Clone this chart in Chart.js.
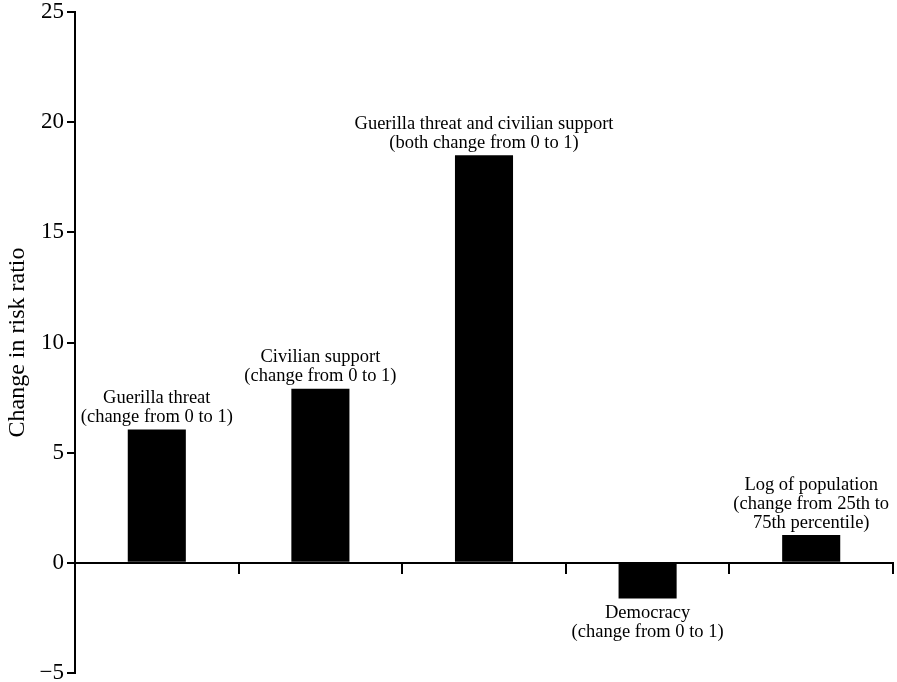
<!DOCTYPE html>
<html>
<head>
<meta charset="utf-8">
<script src="https://cdn.jsdelivr.net/npm/chart.js@4/dist/chart.umd.min.js"></script>
<style>
  html, body { margin: 0; padding: 0; background: #fff; }
  #wrap { width: 897px; height: 682px; }
</style>
</head>
<body>
<div id="wrap"><canvas id="chart" width="897" height="682"></canvas></div>
<script>
// categories and values
const categorias = ['Guerilla threat', 'Civilian support', 'Guerilla threat and civilian support', 'Democracy', 'Log of population'];
const valores = [6.05, 7.9, 18.5, -1.62, 1.26];
const notas = [
    ['Guerilla threat', '(change from 0 to 1)'],
    ['Civilian support', '(change from 0 to 1)'],
    ['Guerilla threat and civilian support', '(both change from 0 to 1)'],
    ['Democracy', '(change from 0 to 1)'],
    ['Log of population', '(change from 25th to', '75th percentile)']
];
const yMin = -5;
const yMax = 25;
const yPaso = 5;
const tituloY = 'Change in risk ratio';

const FUENTE = '"Liberation Serif", "Times New Roman", serif';

// Etiquetas encima / debajo de cada barra
const etiquetasBarras = {
    id: 'etiquetasBarras',
    afterDatasetsDraw(chart) {
        const ctx = chart.ctx;
        const meta = chart.getDatasetMeta(0);
        const alto = 19;
        ctx.save();
        ctx.fillStyle = '#000';
        ctx.font = '18.5px ' + FUENTE;
        ctx.textAlign = 'center';
        meta.data.forEach((barra, i) => {
            const lineas = notas[i];
            if (valores[i] >= 0) {
                ctx.textBaseline = 'bottom';
                lineas.forEach((txt, j) => {
                    const y = barra.y - 3 - (lineas.length - 1 - j) * alto;
                    ctx.fillText(txt, barra.x, y);
                });
            } else {
                ctx.textBaseline = 'top';
                lineas.forEach((txt, j) => {
                    ctx.fillText(txt, barra.x, barra.y + 5 + j * alto);
                });
            }
        });
        ctx.restore();
    }
};

new Chart(document.getElementById('chart').getContext('2d'), {
    type: 'bar',
    data: {
        labels: categorias,
        datasets: [{
            data: valores,
            backgroundColor: '#000',
            borderWidth: 0,
            categoryPercentage: 1,
            barPercentage: 0.355
        }]
    },
    options: {
        responsive: false,
        animation: false,
        layout: { padding: { top: 12, right: 4, left: 0, bottom: 9 } },
        plugins: {
            legend: { display: false },
            tooltip: { enabled: false }
        },
        scales: {
            x: {
                position: { y: 0 },
                grid: {
                    display: true,
                    drawOnChartArea: false,
                    drawTicks: true,
                    tickLength: 10,
                    offset: true,
                    color: '#000',
                    lineWidth: 2
                },
                border: { display: true, color: '#000', width: 2 },
                ticks: { display: false },
                afterFit: (scale) => { scale.height = 0; }
            },
            y: {
                min: yMin,
                max: yMax,
                ticks: {
                    stepSize: yPaso,
                    color: '#000',
                    padding: 3,
                    font: { family: FUENTE, size: 23, lineHeight: 0.3 },
                    callback: (v) => v < 0 ? '\u2212' + Math.abs(v) : v
                },
                grid: {
                    drawOnChartArea: false,
                    drawTicks: true,
                    tickLength: 8,
                    color: '#000',
                    lineWidth: 2
                },
                border: { display: true, color: '#000', width: 2 },
                title: {
                    display: true,
                    text: tituloY,
                    color: '#000',
                    font: { family: FUENTE, size: 24 },
                    padding: { top: 3, bottom: 0 }
                },
                afterFit: (scale) => { scale.width = 75; }
            }
        }
    },
    plugins: [etiquetasBarras]
});
</script>
</body>
</html>
